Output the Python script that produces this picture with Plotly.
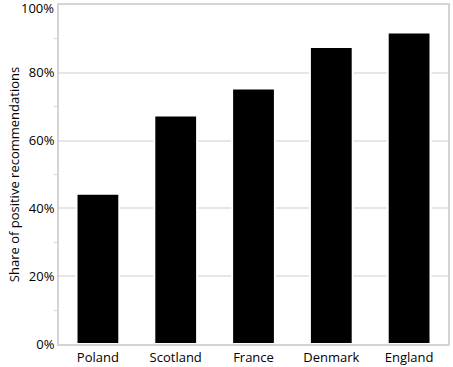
import plotly.graph_objects as go

countries = ["Poland", "Scotland", "France", "Denmark", "England"]
share = [44.3, 67.4, 75.4, 87.6, 91.9]
y_ticks = [0, 20, 40, 60, 80]
y_tick_labels = ["0%", "20%", "40%", "60%", "80%"]
top_tick = 100
top_tick_label = "100%"

fig = go.Figure(go.Bar(
    x=countries, y=share,
    marker=dict(color="black", line=dict(color="white", width=2)),
    width=0.55,
))

fig.update_layout(
    width=453, height=367,
    margin=dict(l=59, r=5, t=5, b=23, autoexpand=False),
    paper_bgcolor="white", plot_bgcolor="white",
    font=dict(family="Open Sans, Noto Sans, sans-serif", size=13, color="black"),
    showlegend=False,
    annotations=[dict(
        x=0, xref="paper", y=top_tick, yref="y", text=top_tick_label,
        showarrow=False, xanchor="right", yanchor="middle",
        xshift=-3, yshift=-3, font=dict(size=13, color="black"),
    )],
)
fig.update_xaxes(
    showline=True, linecolor="#d4d4d4", linewidth=2, mirror=True,
    ticks="", tickfont=dict(size=13), range=[-0.5, 4.5], automargin=False,
)
fig.update_yaxes(
    range=[0, 100], tickmode="array", tickvals=y_ticks, ticktext=y_tick_labels,
    showgrid=True, gridcolor="#e6e6e6", gridwidth=1.5,
    showline=True, linecolor="#d4d4d4", linewidth=2, mirror=True,
    ticks="", zeroline=False, automargin=False,
    minor=dict(tickvals=[10, 30, 50, 70, 90], ticks="outside", ticklen=3, tickcolor="#d4d4d4", showgrid=False),
    title=dict(text="Share of positive recommendations", font=dict(size=13), standoff=6),
    tickfont=dict(size=13),
)

fig.write_html(
    "out.html",
    config={"displayModeBar": False},
    post_script="document.body.style.margin='0';document.body.style.overflow='hidden';",
)
